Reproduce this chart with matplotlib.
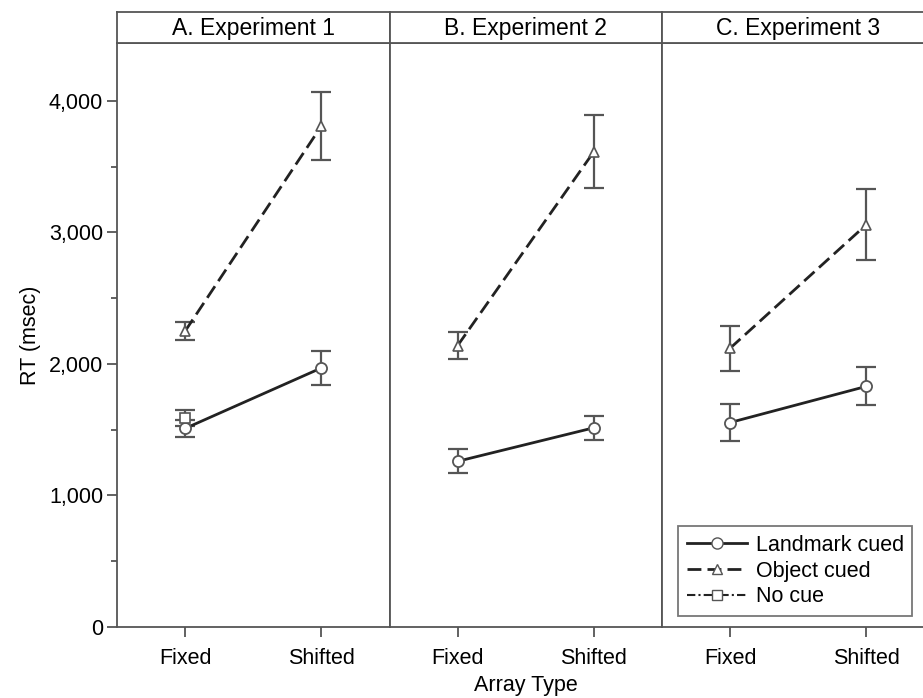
import matplotlib
matplotlib.use("Agg")
import matplotlib.pyplot as plt
from matplotlib.ticker import FuncFormatter, MultipleLocator
from matplotlib.lines import Line2D

plt.rcParams['font.family'] = ['Liberation Sans', 'DejaVu Sans']

panels = ["A. Experiment 1", "B. Experiment 2", "C. Experiment 3"]
array_types = ["Fixed", "Shifted"]

landmark_mean = [[1510, 1970], [1260, 1515], [1555, 1830]]
landmark_err = [[65, 130], [90, 90], [140, 145]]
object_mean = [[2250, 3810], [2140, 3615], [2120, 3060]]
object_err = [[70, 255], [100, 280], [170, 270]]
nocue_mean = [1590]   # Experiment 1, Fixed only
nocue_err = [60]

W, H = 923, 698
fig = plt.figure(figsize=(W / 100, H / 100), dpi=100)

left_px, pw = 117, 272.5
top_plot, bot_plot, top_head = 43, 627, 12
ecol = '#555555'
spcol = '#555555'

axes = []
for i, name in enumerate(panels):
    x0 = (left_px + i * pw) / W
    ax = fig.add_axes([x0, (H - bot_plot) / H, pw / W, (bot_plot - top_plot) / H])
    hax = fig.add_axes([x0, (H - top_plot) / H, pw / W, (top_plot - top_head) / H])
    for a in (ax, hax):
        for s in a.spines.values():
            s.set_color(spcol)
            s.set_linewidth(1.3)
    hax.set_xticks([]); hax.set_yticks([])
    hax.text(0.5, 0.47, name, ha='center', va='center', fontsize=16.5, transform=hax.transAxes)

    xs = [0, 1]
    ax.errorbar(xs, landmark_mean[i], yerr=landmark_err[i], fmt='none', ecolor=ecol,
                elinewidth=1.6, capsize=7, capthick=1.6, zorder=2)
    ax.errorbar(xs, object_mean[i], yerr=object_err[i], fmt='none', ecolor=ecol,
                elinewidth=1.6, capsize=7, capthick=1.6, zorder=2)
    if i == 0:
        ax.errorbar([0], nocue_mean, yerr=nocue_err, fmt='none', ecolor=ecol,
                    elinewidth=1.6, capsize=7, capthick=1.6, zorder=2)
        ax.plot([0], nocue_mean, linestyle=(0, (4, 1.5, 1, 1.5)), color='#222222',
                marker='s', markersize=7, markerfacecolor='white', markeredgecolor=ecol,
                markeredgewidth=1.2, zorder=4)
    ax.plot(xs, landmark_mean[i], '-', color='#222222', lw=2.0, marker='o', markersize=8,
            markerfacecolor='white', markeredgecolor=ecol, markeredgewidth=1.3, zorder=3)
    ax.plot(xs, object_mean[i], color='#222222', lw=2.0, linestyle=(0, (5, 2.2)),
            marker='^', markersize=7, markerfacecolor='white', markeredgecolor=ecol,
            markeredgewidth=1.2, zorder=3)

    ax.set_xlim(-0.5, 1.5)
    ax.set_ylim(0, 4441)
    ax.set_xticks(xs)
    ax.set_xticklabels(array_types, fontsize=15.5)
    ax.tick_params(axis='x', length=7, width=1.3, color=spcol, pad=8)
    if i == 0:
        ax.yaxis.set_major_locator(MultipleLocator(1000))
        ax.yaxis.set_minor_locator(MultipleLocator(500))
        ax.yaxis.set_major_formatter(FuncFormatter(lambda v, p: f"{int(v):,}"))
        ax.tick_params(axis='y', which='major', length=7, width=1.3, color=spcol, labelsize=15.5, pad=3)
        ax.tick_params(axis='y', which='minor', length=4, width=1.3, color=spcol)
        ax.set_ylabel("RT (msec)", fontsize=15.5, labelpad=6)
    else:
        ax.set_yticks([])
    axes.append(ax)

fig.text((left_px + 1.5 * pw) / W, 1 - 686 / H, "Array Type", ha='center', va='center', fontsize=15.5)

handles = [
    Line2D([], [], color='#222222', lw=2.0, marker='o', markersize=8, markerfacecolor='white',
           markeredgecolor=ecol),
    Line2D([], [], color='#222222', lw=2.0, linestyle=(0, (5, 2.2)), marker='^', markersize=7,
           markerfacecolor='white', markeredgecolor=ecol),
    Line2D([], [], color='#222222', lw=1.5, linestyle=(0, (4, 1.5, 1, 1.5)), marker='s',
           markersize=7, markerfacecolor='white', markeredgecolor=ecol),
]
leg = axes[2].legend(handles, ["Landmark cued", "Object cued", "No cue"],
                     loc='lower left', bbox_to_anchor=((678 - (left_px + 2 * pw)) / pw, (627 - 616) / (627 - 43)),
                     fontsize=15.5, frameon=True, fancybox=False, handlelength=2.8,
                     handletextpad=0.4, labelspacing=0.22, borderpad=0.4, borderaxespad=0)
leg.get_frame().set_edgecolor(spcol)
leg.get_frame().set_linewidth(1.3)

fig.savefig("out.png", dpi=100)
